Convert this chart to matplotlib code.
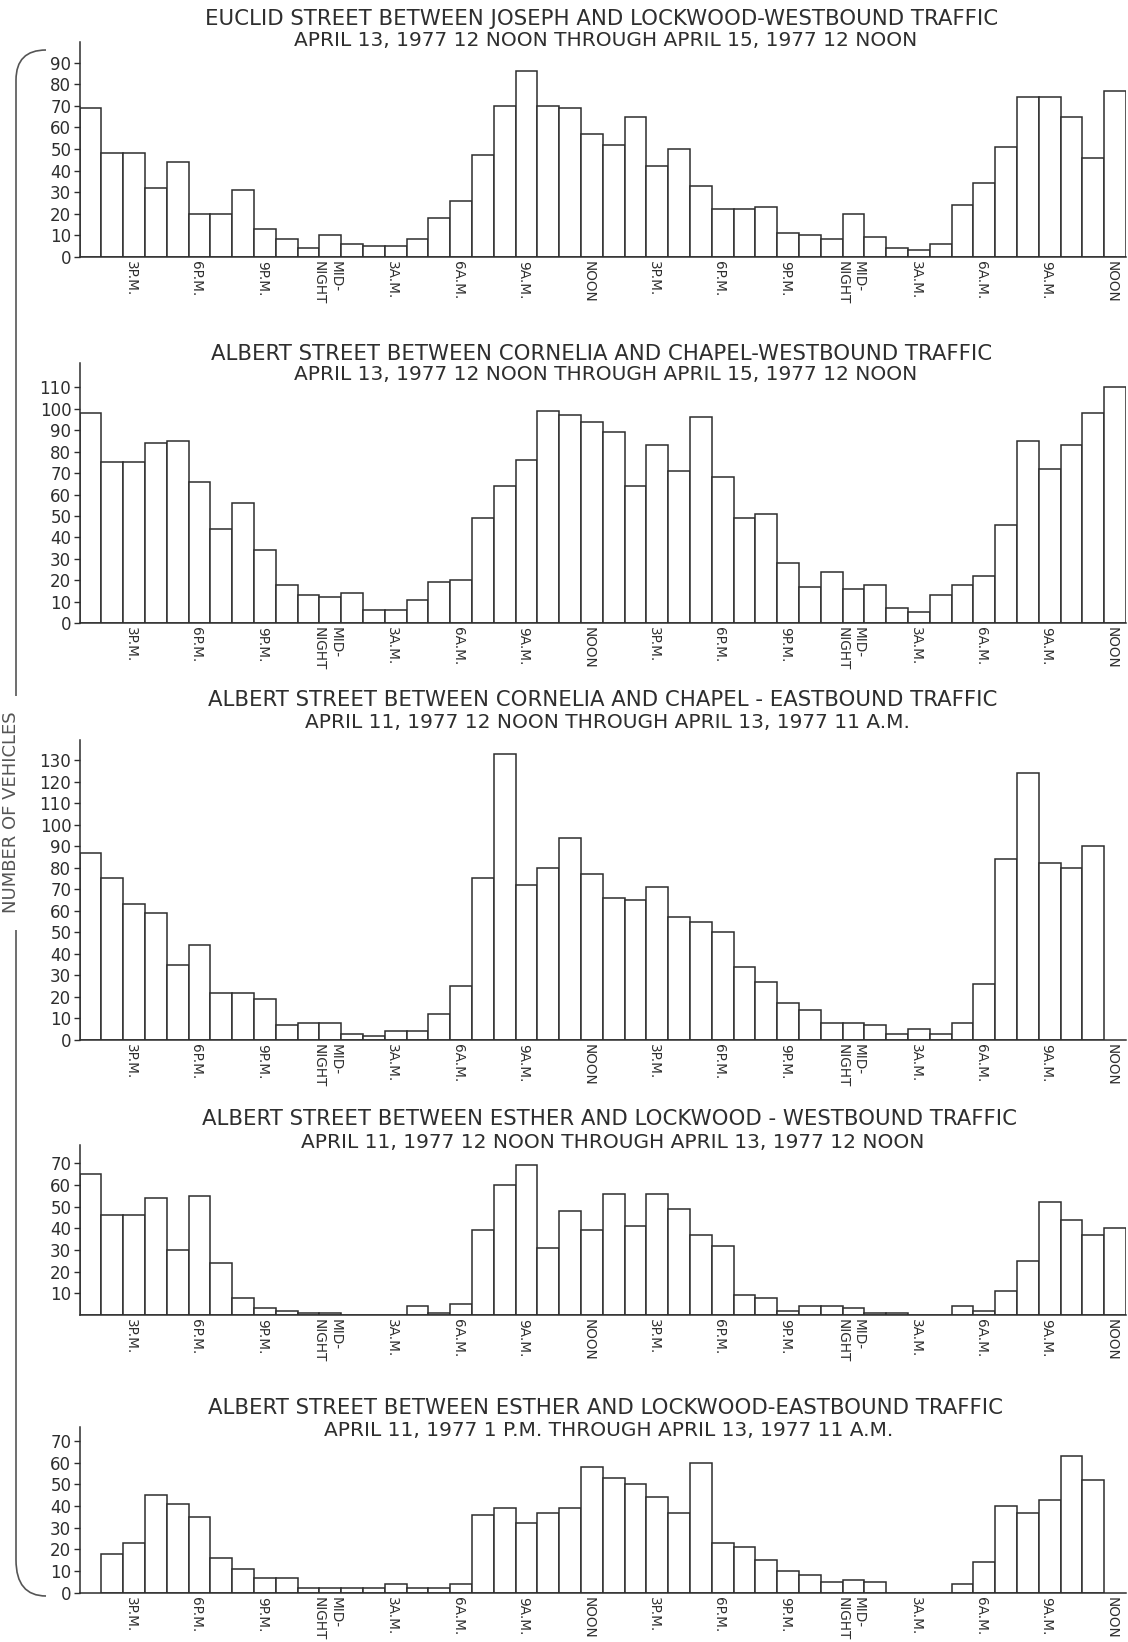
import numpy as np
import matplotlib
matplotlib.use("Agg")
import matplotlib.pyplot as plt
from matplotlib.path import Path
from matplotlib.patches import PathPatch

plt.rcParams['font.family'] = ['DejaVu Sans']

W, H = 1128, 1642
INK = '#2e2e2e'

# hourly slots: slot 0 = first hour after 12 noon, slot 47 = last hour before noon two days later
hour_labels = ["3P.M.", "6P.M.", "9P.M.", "MID-\nNIGHT", "3A.M.", "6A.M.", "9A.M.", "NOON",
               "3P.M.", "6P.M.", "9P.M.", "MID-\nNIGHT", "3A.M.", "6A.M.", "9A.M.", "NOON"]
label_slots = list(range(2, 48, 3))

# vehicles per hour
euclid_west = [69, 48, 48, 32, 44, 20, 20, 31, 13, 8, 4, 10, 6, 5, 5, 8, 18, 26, 47, 70, 86, 70, 69, 57,
               52, 65, 42, 50, 33, 22, 22, 23, 11, 10, 8, 20, 9, 4, 3, 6, 24, 34, 51, 74, 74, 65, 46, 77]
cornelia_west = [98, 75, 75, 84, 85, 66, 44, 56, 34, 18, 13, 12, 14, 6, 6, 11, 19, 20, 49, 64, 76, 99, 97, 94,
                 89, 64, 83, 71, 96, 68, 49, 51, 28, 17, 24, 16, 18, 7, 5, 13, 18, 22, 46, 85, 72, 83, 98, 110]
cornelia_east = [87, 75, 63, 59, 35, 44, 22, 22, 19, 7, 8, 8, 3, 2, 4, 4, 12, 25, 75, 133, 72, 80, 94, 77,
                 66, 65, 71, 57, 55, 50, 34, 27, 17, 14, 8, 8, 7, 3, 5, 3, 8, 26, 84, 124, 82, 80, 90]
esther_west = [65, 46, 46, 54, 30, 55, 24, 8, 3, 2, 1, 1, 0, 0, 0, 4, 1, 5, 39, 60, 69, 31, 48, 39,
               56, 41, 56, 49, 37, 32, 9, 8, 2, 4, 4, 3, 1, 1, 0, 0, 4, 2, 11, 25, 52, 44, 37, 40]
esther_east = [18, 23, 45, 41, 35, 16, 11, 7, 7, 2, 2, 2, 2, 4, 2, 2, 4, 36, 39, 32, 37, 39, 58,
               53, 50, 44, 37, 60, 23, 21, 15, 10, 8, 5, 6, 5, 0, 0, 0, 4, 14, 40, 37, 43, 63, 52]

titles = [
    ("EUCLID STREET BETWEEN JOSEPH AND LOCKWOOD-WESTBOUND TRAFFIC",
     "APRIL 13, 1977 12 NOON THROUGH APRIL 15, 1977 12 NOON"),
    ("ALBERT STREET BETWEEN CORNELIA AND CHAPEL-WESTBOUND TRAFFIC",
     "APRIL 13, 1977 12 NOON THROUGH APRIL 15, 1977 12 NOON"),
    ("ALBERT STREET BETWEEN CORNELIA AND CHAPEL - EASTBOUND TRAFFIC",
     "APRIL 11, 1977 12 NOON THROUGH APRIL 13, 1977 11 A.M."),
    ("ALBERT STREET BETWEEN ESTHER AND LOCKWOOD - WESTBOUND TRAFFIC",
     "APRIL 11, 1977 12 NOON THROUGH APRIL 13, 1977 12 NOON"),
    ("ALBERT STREET BETWEEN ESTHER AND LOCKWOOD-EASTBOUND TRAFFIC",
     "APRIL 11, 1977 1 P.M. THROUGH APRIL 13, 1977 11 A.M."),
]
series = [euclid_west, cornelia_west, cornelia_east, esther_west, esther_east]
first_slot = [0, 0, 0, 0, 1]
yticks = [range(0, 91, 10), range(0, 111, 10), range(0, 131, 10), range(10, 71, 10), range(0, 71, 10)]

# layout in pixels: (baseline, axis top, y-limit, title line 1 y, title line 2 y, title x)
layout = [
    (256.6, 42, 99.7, 19, 40, 602),
    (623.2, 363, 121.4, 354, 374, 602),
    (1040, 740, 139.3, 700, 722, 603),
    (1315, 1145, 78.4, 1119, 1142, 609),
    (1592.7, 1427, 76.5, 1408, 1431, 605),
]
x_left, x_right = 79.6, 1126

fig = plt.figure(figsize=(W / 100, H / 100), dpi=100)
fig.patch.set_facecolor('white')

for vals, start, ticks, (base, top, ytop, _, _, _) in zip(series, first_slot, yticks, layout):
    ax = fig.add_axes([x_left / W, 1 - base / H, (x_right - x_left) / W, (base - top) / H])
    ax.patch.set_alpha(0)
    x = np.arange(start, start + len(vals))
    ax.bar(x, vals, width=1.0, facecolor='white', edgecolor=INK, linewidth=1.1)
    ax.set_xlim(-0.5, 47.5)
    ax.set_ylim(0, ytop)
    for s in ['top', 'right']:
        ax.spines[s].set_visible(False)
    for s in ['left', 'bottom']:
        ax.spines[s].set_color(INK)
        ax.spines[s].set_linewidth(1.1)
    ax.set_yticks(list(ticks))
    ax.tick_params(axis='y', length=4, width=1, pad=2, labelsize=12, colors=INK)
    ax.set_xticks(np.array(label_slots) - 0.15)
    ax.set_xticklabels(hour_labels, rotation=270, ha='center', va='top',
                       multialignment='left', fontsize=9.8, color=INK)
    ax.tick_params(axis='x', length=0, pad=3)

# overlay in pixel units for titles and the bracket
ov = fig.add_axes([0, 0, 1, 1])
ov.set_xlim(0, W)
ov.set_ylim(H, 0)
ov.axis('off')
ov.patch.set_alpha(0)

for (l1, l2), (_, _, _, y1, y2, xc) in zip(titles, layout):
    ov.text(xc, y1, l1, ha='center', va='center', fontsize=15.3, color=INK)
    ov.text(xc + 4, y2, l2, ha='center', va='center', fontsize=14.5, color=INK)

ov.text(11, 812, "NUMBER OF VEHICLES", rotation=90, ha='center', va='center',
        fontsize=13, color='#555555')

bx = 16
top_brace = Path([(46, 50), (bx, 50), (bx, 80), (bx, 696)],
                 [Path.MOVETO, Path.CURVE3, Path.CURVE3, Path.LINETO])
bot_brace = Path([(bx, 930), (bx, 1560), (bx, 1596), (46, 1596)],
                 [Path.MOVETO, Path.LINETO, Path.CURVE3, Path.CURVE3])
for p in (top_brace, bot_brace):
    ov.add_patch(PathPatch(p, facecolor='none', edgecolor='#555555', linewidth=1.2))

fig.savefig('out.png', dpi=100, facecolor='white')
